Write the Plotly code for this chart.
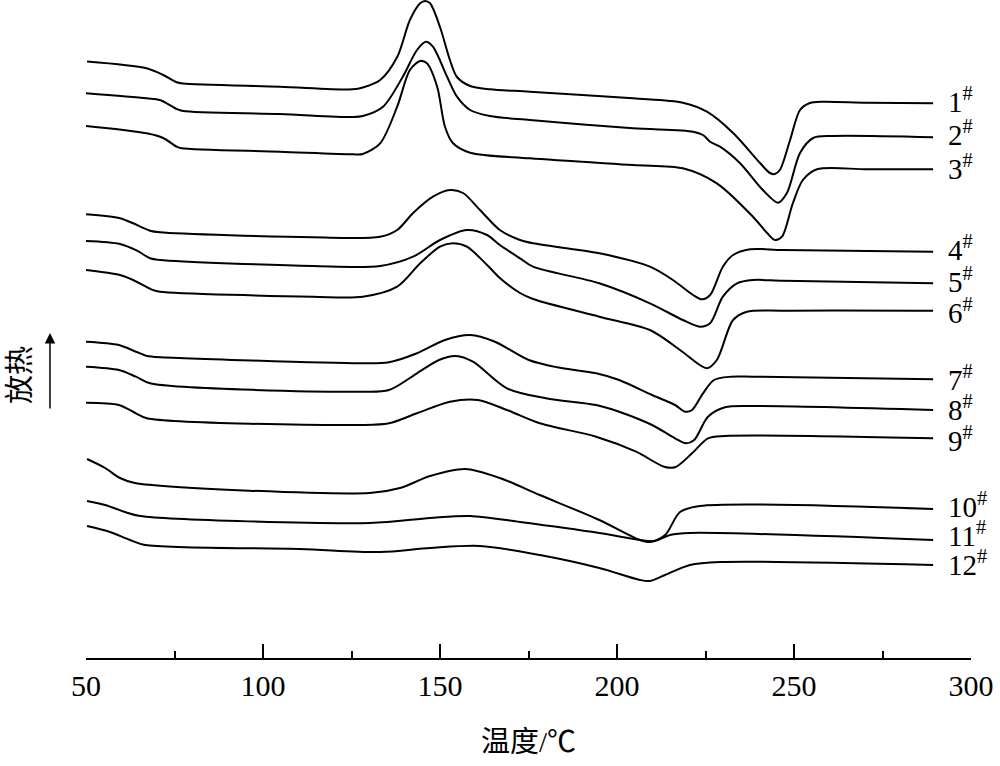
import plotly.graph_objects as go

# DSC curves: temperature (°C) and heat flow (arbitrary units, exo up, offset per sample)
t1 = [50.3, 67.1, 71.8, 75.6, 77.4, 104.8, 125.4, 128.2, 133.1, 137.9, 141.5, 144.4, 145.8, 147.2, 150.0, 152.8, 154.8, 158.5, 164.1, 175.4, 204.5, 218.6, 225.4, 232.8, 240.4, 243.2, 244.6, 246.0, 248.9, 251.7, 254.5, 258.2, 270.6, 289.3]
h1 = [596.5, 589.7, 583, 575.7, 574.5, 571.3, 568.7, 570.5, 578, 601, 638, 654.7, 657, 654.7, 631, 598, 581, 572, 568.7, 566.3, 559.7, 555.3, 546.3, 525, 495, 485, 484, 488, 518, 548, 555, 556.3, 555.3, 554.7]

t2 = [50.0, 67.1, 70.9, 75.6, 77.4, 104.8, 125.4, 128.2, 133.9, 139.5, 143.5, 146.0, 148.0, 152.0, 154.8, 158.5, 164.1, 175.4, 204.5, 221.5, 224.3, 226.3, 229.1, 234.7, 241.2, 245.5, 248.0, 251.7, 255.4, 261.0, 289.3]
h2 = [564.7, 559.7, 558, 549, 547, 544, 541, 542, 551.3, 581.3, 608, 616.3, 611.3, 581.3, 561.3, 548, 542, 538, 529.7, 526.3, 523, 516.3, 511.3, 495, 468, 455.3, 465, 505, 520, 522, 520.7]

t3 = [50.0, 67.1, 71.8, 75.6, 77.0, 104.8, 125.4, 128.2, 133.1, 137.9, 141.5, 144.4, 146.3, 149.2, 151.4, 153.7, 158.5, 175.4, 204.5, 218.6, 228.2, 238.4, 242.4, 244.6, 246.6, 249.7, 252.5, 256.5, 270.6, 289.3]
h3 = [532, 524.7, 520, 511.3, 509.7, 506.3, 503.7, 504, 514.7, 551.3, 588, 597, 594.7, 571.3, 531.3, 514.7, 505.3, 499.7, 493, 489.7, 474.7, 441.3, 425, 418, 421.3, 455, 478, 488.7, 488.7, 488.7]

t4 = [50.0, 59.6, 63.3, 68.1, 70.9, 114.1, 133.1, 137.9, 142.4, 148.0, 152.8, 156.5, 161.3, 166.9, 172.6, 176.3, 195.0, 209.3, 215.8, 221.5, 224.0, 226.3, 229.9, 232.8, 237.6, 246.9, 289.3]
h4 = [443.7, 439.7, 434.7, 427.3, 425.7, 420.7, 421.3, 428, 445, 461.3, 468, 465, 448, 428, 418, 414.7, 404.7, 391.3, 378, 363, 358.7, 363, 391.3, 403, 408.7, 408, 406.3]

t5 = [50.0, 59.6, 64.4, 68.1, 70.9, 114.1, 133.1, 142.4, 150.0, 157.6, 163.3, 166.9, 172.6, 176.3, 195.0, 209.3, 218.6, 223.4, 226.3, 229.9, 233.9, 238.4, 246.9, 289.3]
h5 = [417, 414, 407.3, 399.7, 398, 392, 392, 401.3, 418, 428, 423, 413, 399.7, 391.3, 374.7, 354.7, 338, 331.3, 334.7, 361.3, 374.7, 378, 377.3, 374.7]

t6 = [50.0, 59.6, 63.3, 68.9, 70.9, 114.1, 128.2, 137.9, 144.4, 150.0, 153.7, 157.6, 163.3, 166.9, 172.6, 176.3, 195.0, 209.3, 217.8, 223.4, 225.4, 228.2, 232.8, 236.7, 246.9, 289.3]
h6 = [388, 383, 378, 368, 366.3, 361.3, 361.3, 371.3, 394.7, 411.3, 414.7, 411.3, 393, 380, 365, 359, 341.3, 328, 308, 293, 289.7, 298, 338, 346.3, 347.3, 347.3]

t7 = [50.0, 59.3, 64.1, 67.2, 68.9, 127.7, 135.6, 143.5, 151.4, 158.5, 165.5, 175.1, 183.1, 194.1, 200.6, 209.9, 216.4, 219.2, 221.2, 224.3, 227.4, 232.2, 238.4, 289.3]
h7 = [316.3, 313, 306.3, 302, 301.3, 294.7, 295.7, 304.7, 318, 323, 316.3, 298, 290.7, 284.7, 278, 263, 253, 246.3, 248, 264.7, 278, 281.3, 281.3, 278.7]

t8 = [50.0, 59.3, 64.1, 68.1, 127.7, 135.6, 143.5, 149.7, 154.5, 159.3, 168.9, 179.9, 194.1, 200.6, 209.9, 216.4, 219.5, 221.8, 225.7, 230.5, 238.4, 289.3]
h8 = [291.3, 288, 281.3, 274.7, 266.3, 268, 284.7, 298, 302, 296.3, 269.7, 259.7, 253, 246.3, 233, 219.7, 214.7, 218, 241.3, 250.7, 252, 248]

t9 = [50.0, 59.3, 64.1, 67.2, 127.7, 135.6, 143.5, 152.8, 160.7, 168.9, 178.2, 194.1, 205.4, 213.3, 216.4, 221.2, 225.7, 230.5, 289.3]
h9 = [255.3, 253, 244.7, 239.7, 233, 234.7, 244.7, 256.3, 258, 248, 234.7, 221.3, 206.3, 191.3, 190.7, 204.7, 219.7, 222, 219.7]

t10 = [50.3, 55.4, 59.6, 63.8, 130.2, 138.7, 147.2, 157.1, 166.9, 178.2, 195.0, 206.5, 209.3, 213.6, 217.8, 223.4, 289.3]
h10 = [199, 190, 180, 175, 165, 170, 182, 189, 180, 163, 138, 118, 116, 123, 146, 152, 149]

t11 = [50.3, 55.4, 61.0, 65.3, 130.2, 147.2, 158.5, 172.6, 195.0, 206.5, 210.7, 215.0, 220.6, 289.3]
h11 = [157, 153, 146, 142, 135, 140, 142, 136, 125, 118, 117, 123, 125, 118]

t12 = [50.3, 56.8, 62.4, 66.7, 110.5, 133.1, 147.2, 161.3, 178.2, 195.0, 206.5, 209.3, 213.6, 220.6, 229.1, 289.3]
h12 = [132, 126, 118, 113, 109, 106, 110, 112, 103, 90, 78, 77, 83, 93, 96, 93]

curve_names = ["1", "2", "3", "4", "5", "6", "7", "8", "9", "10", "11", "12"]
temps = [t1, t2, t3, t4, t5, t6, t7, t8, t9, t10, t11, t12]
flows = [h1, h2, h3, h4, h5, h6, h7, h8, h9, h10, h11, h12]
label_y = [558, 525, 491, 410, 378, 347, 280, 250, 219, 153, 124, 95]

x_ticks = [50, 100, 150, 200, 250, 300]
x_title = "温度/℃"
y_title = "放热"

SERIF = "Liberation Serif, Times New Roman, serif"
CJK = "Liberation Serif, Noto Sans CJK SC, serif"

fig = go.Figure()
for name, t, h in zip(curve_names, temps, flows):
    fig.add_trace(go.Scatter(
        x=t, y=h, mode="lines", name=name + "#",
        line=dict(color="black", width=2, shape="spline", smoothing=0.85),
        showlegend=False, hoverinfo="skip"))

for name, ly in zip(curve_names, label_y):
    fig.add_annotation(
        x=293, y=ly, xref="x", yref="y", xanchor="left", yanchor="middle",
        text=name + "<sup>#</sup>", showarrow=False,
        font=dict(family=SERIF, size=29, color="black"))

# x-axis title
fig.add_annotation(
    x=0.5, y=-0.128, xref="paper", yref="paper", xanchor="center", yanchor="middle",
    text=x_title, showarrow=False, font=dict(family=CJK, size=29, color="black"))

# exotherm label + arrow
fig.add_annotation(
    x=-0.0746, y=0.43, xref="paper", yref="paper", xanchor="center", yanchor="middle",
    text=y_title, textangle=-90, showarrow=False,
    font=dict(family=CJK, size=29, color="black"))
fig.add_annotation(
    x=-0.0407, y=0.494, xref="paper", yref="paper", ax=0, ay=77, axref="pixel", ayref="pixel",
    text="", showarrow=True, arrowhead=2, arrowsize=1.4, arrowwidth=1.5, arrowcolor="black",
    standoff=0, startstandoff=0)

fig.update_xaxes(
    range=[50, 300], tickvals=x_ticks, ticktext=[str(v) for v in x_ticks],
    ticks="inside", ticklen=14, tickwidth=2, tickcolor="black",
    showline=True, linecolor="black", linewidth=2, showgrid=False, zeroline=False,
    tickfont=dict(family=SERIF, size=30, color="black"),
    minor=dict(dtick=25, tick0=50, ticks="inside", ticklen=7, tickwidth=2, tickcolor="black", showgrid=False))
fig.update_yaxes(range=[0, 658], visible=False, showgrid=False, zeroline=False)

fig.update_layout(
    width=1000, height=766, margin=dict(l=86, r=29, t=0, b=108),
    paper_bgcolor="white", plot_bgcolor="white", showlegend=False)

fig.write_html("out.html", config={"displayModeBar": False},
               post_script="document.body.style.margin='0';")
